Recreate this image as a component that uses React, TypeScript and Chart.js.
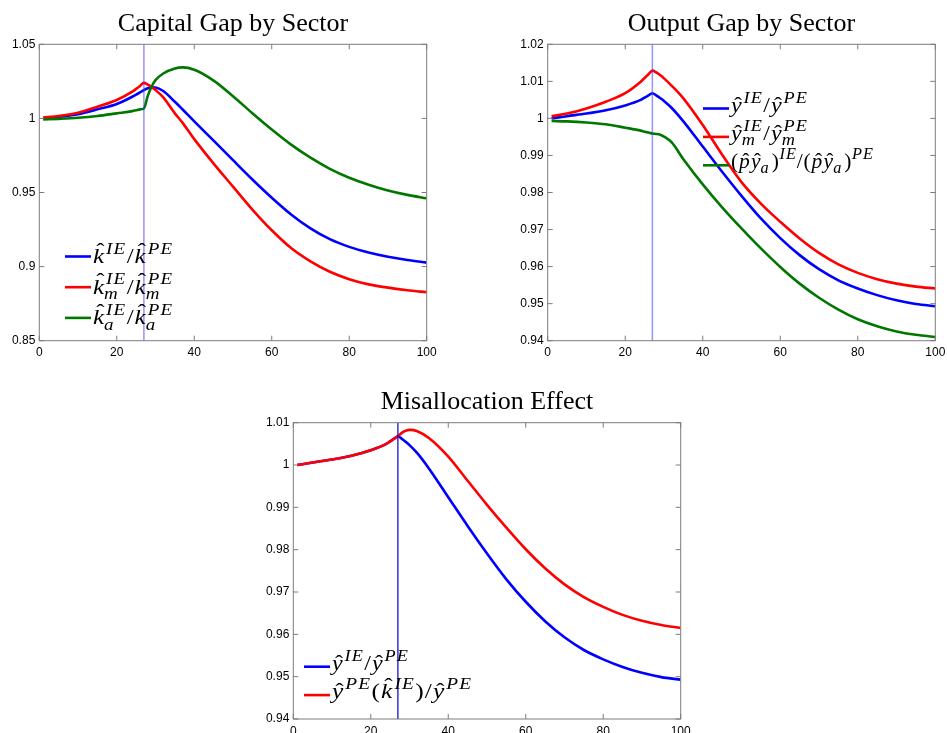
import React, { useEffect, useRef } from 'react';
import { Chart, registerables } from 'chart.js';

Chart.register(...registerables);

// ---------- data ----------
const xTicks = [0, 20, 40, 60, 80, 100];
const shockPeriod = 27;

// Capital gap by sector
const capT = [1, 5, 10, 15, 20, 24, 25, 26, 27, 28, 29, 30, 32, 35, 37, 40, 45, 50, 55, 60, 65, 70, 75, 80, 85, 90, 95, 100];
const capK = [1.0, 1.0011, 1.0029, 1.0061, 1.0097, 1.0146, 1.016, 1.0175, 1.0191, 1.0203, 1.021, 1.0209, 1.0185, 1.0112, 1.006, 0.998, 0.985, 0.9718, 0.9588, 0.9465, 0.9352, 0.9258, 0.9185, 0.9133, 0.9095, 0.9066, 0.9044, 0.9027];
const capKm = [1.0005, 1.0016, 1.0038, 1.0079, 1.0124, 1.018, 1.0199, 1.0219, 1.024, 1.0228, 1.0211, 1.0191, 1.0142, 1.0034, 0.997, 0.986, 0.9695, 0.954, 0.9385, 0.9245, 0.9125, 0.9035, 0.8965, 0.8915, 0.888, 0.8858, 0.884, 0.8827];
const capKa = [0.9993, 0.9997, 1.0004, 1.0016, 1.0034, 1.0049, 1.0055, 1.0061, 1.0067, 1.0152, 1.0215, 1.0258, 1.0303, 1.0337, 1.0344, 1.0328, 1.0255, 1.015, 1.0035, 0.9925, 0.9823, 0.9735, 0.966, 0.96, 0.9553, 0.9514, 0.9484, 0.9461];
const capYTicks = [0.85, 0.9, 0.95, 1, 1.05];

// Output gap by sector
const outT = [1, 5, 10, 15, 20, 24, 25, 26, 27, 28, 29, 30, 32, 35, 40, 45, 50, 55, 60, 65, 70, 75, 80, 85, 90, 95, 100];
const outY = [1.0, 1.0006, 1.0013, 1.0022, 1.0035, 1.005, 1.0056, 1.0062, 1.0068, 1.0062, 1.0055, 1.0047, 1.0028, 0.9992, 0.9924, 0.9856, 0.9791, 0.973, 0.9677, 0.9631, 0.9593, 0.9563, 0.9541, 0.9523, 0.9509, 0.9499, 0.9493];
const outYm = [1.0006, 1.0013, 1.0027, 1.0045, 1.0068, 1.0099, 1.0109, 1.0119, 1.0129, 1.0124, 1.0117, 1.0108, 1.0088, 1.0054, 0.9982, 0.9902, 0.9828, 0.977, 0.9721, 0.9676, 0.9637, 0.9606, 0.9583, 0.9566, 0.9554, 0.9546, 0.9541];
const outPYa = [0.9993, 0.9992, 0.9989, 0.9984, 0.9975, 0.9967, 0.9964, 0.9962, 0.9959, 0.9958, 0.9956, 0.9951, 0.9935, 0.989, 0.9822, 0.976, 0.9703, 0.9649, 0.9599, 0.9554, 0.9516, 0.9484, 0.9458, 0.9439, 0.9425, 0.9416, 0.941];
const outYTicks = [0.94, 0.95, 0.96, 0.97, 0.98, 0.99, 1, 1.01, 1.02];

// Misallocation effect
const misT = [1, 5, 10, 15, 20, 24, 25, 26, 27, 28, 29, 30, 32, 35, 40, 45, 50, 55, 60, 65, 70, 75, 80, 85, 90, 95, 100];
const misY = [1.0, 1.0006, 1.0013, 1.0022, 1.0035, 1.005, 1.0056, 1.0062, 1.0068, 1.0062, 1.0055, 1.0047, 1.0028, 0.9992, 0.9924, 0.9856, 0.9791, 0.973, 0.9677, 0.9631, 0.9593, 0.9563, 0.9541, 0.9523, 0.9509, 0.9499, 0.9493];
const misYk = [1.0, 1.0006, 1.0013, 1.0022, 1.0035, 1.005, 1.0056, 1.0062, 1.0068, 1.0076, 1.0081, 1.0083, 1.008, 1.0064, 1.002, 0.9963, 0.9906, 0.9852, 0.9801, 0.9756, 0.9718, 0.9688, 0.9665, 0.9646, 0.9632, 0.9622, 0.9615];
const misYTicks = [0.94, 0.95, 0.96, 0.97, 0.98, 0.99, 1, 1.01];

// ---------- legend labels (math text) ----------
type Seg = { b: string; roman?: boolean; hat?: boolean; sup?: string; sub?: string };

const capLabels: Seg[][] = [
  [{ b: 'k', hat: true, sup: 'IE' }, { b: '/', roman: true }, { b: 'k', hat: true, sup: 'PE' }],
  [{ b: 'k', hat: true, sup: 'IE', sub: 'm' }, { b: '/', roman: true }, { b: 'k', hat: true, sup: 'PE', sub: 'm' }],
  [{ b: 'k', hat: true, sup: 'IE', sub: 'a' }, { b: '/', roman: true }, { b: 'k', hat: true, sup: 'PE', sub: 'a' }],
];
const outLabels: Seg[][] = [
  [{ b: 'y', hat: true, sup: 'IE' }, { b: '/', roman: true }, { b: 'y', hat: true, sup: 'PE' }],
  [{ b: 'y', hat: true, sup: 'IE', sub: 'm' }, { b: '/', roman: true }, { b: 'y', hat: true, sup: 'PE', sub: 'm' }],
  [
    { b: '(', roman: true }, { b: 'p', hat: true }, { b: 'y', hat: true, sub: 'a' }, { b: ')', roman: true, sup: 'IE' },
    { b: '/', roman: true },
    { b: '(', roman: true }, { b: 'p', hat: true }, { b: 'y', hat: true, sub: 'a' }, { b: ')', roman: true, sup: 'PE' },
  ],
];
const misLabels: Seg[][] = [
  [{ b: 'y', hat: true, sup: 'IE' }, { b: '/', roman: true }, { b: 'y', hat: true, sup: 'PE' }],
  [
    { b: 'y', hat: true, sup: 'PE' }, { b: '(', roman: true }, { b: 'k', hat: true, sup: 'IE' }, { b: ')', roman: true },
    { b: '/', roman: true }, { b: 'y', hat: true, sup: 'PE' },
  ],
];

const titles = ['Capital Gap by Sector', 'Output Gap by Sector', 'Misallocation Effect'];

const BLUE = '#0000ff';
const RED = '#ff0000';
const GREEN = '#007800';

const SERIF = '"Liberation Serif", "Times New Roman", serif';
const SANS = '"Liberation Sans", Arial, Helvetica, sans-serif';

// ---------- math text drawing ----------
function layoutMath(ctx: CanvasRenderingContext2D, segs: Seg[], x: number, y: number, size: number, draw: boolean) {
  const small = size * 0.76;
  let cx = x;
  ctx.textAlign = 'left';
  ctx.textBaseline = 'alphabetic';
  ctx.fillStyle = '#000';
  const put = (txt: string, px: number, py: number) => { if (draw) ctx.fillText(txt, px, py); };
  const spaced = (s: string, px: number, py: number) => {
    let sx = px;
    for (let i = 0; i < s.length; i++) {
      put(s[i], sx, py);
      sx += ctx.measureText(s[i]).width + (i < s.length - 1 ? small * 0.06 : 0);
    }
    return sx - px;
  };
  segs.forEach((s, idx) => {
    const ital = !s.roman;
    ctx.font = `${ital ? 'italic ' : ''}${size}px ${SERIF}`;
    put(s.b, cx, y);
    const bw = ctx.measureText(s.b).width;
    if (s.hat) {
      ctx.font = `${size}px ${SERIF}`;
      const hw = ctx.measureText('\u02C6').width;
      const raise = /[bdfhklt]/.test(s.b) ? size * 0.24 : 0;
      put('\u02C6', cx + bw / 2 - hw / 2 + size * 0.07, y - raise);
    }
    cx += bw;
    if (s.sup || s.sub) {
      ctx.font = `italic ${small}px ${SERIF}`;
      const sx = cx + (ital ? size * 0.08 : size * 0.03);
      let w1 = 0;
      let w2 = 0;
      if (s.sup) w1 = spaced(s.sup, sx, y - size * 0.42);
      if (s.sub) w2 = spaced(s.sub, sx - (ital ? size * 0.08 : 0), y + size * 0.24);
      cx = sx + Math.max(w1, w2);
    }
    if (idx < segs.length - 1) cx += s.roman ? size * 0.04 : size * 0.06;
  });
  return cx - x;
}

// Draws the label stretched horizontally to the width it has in the original figure.
function drawMath(ctx: CanvasRenderingContext2D, segs: Seg[], x: number, y: number, size: number, target: number) {
  const natural = layoutMath(ctx, segs, 0, y, size, false);
  const sx = Math.min(1.3, Math.max(0.85, target / natural));
  ctx.save();
  ctx.translate(x, 0);
  ctx.scale(sx, 1);
  layoutMath(ctx, segs, 0, y, size, true);
  ctx.restore();
}

// ---------- panel specs ----------
interface Spec {
  left: number; top: number; w: number; h: number;
  padLeft: number; padRight: number; padTop: number; yAxisW: number; xAxisH: number;
  title: string;
  t: number[];
  series: { data: number[]; color: string }[];
  yMin: number; yMax: number; yTicks: number[];
  vColor: string; vWidth: number;
  legX: number; legY: number; legDy: number; legBase: number; legSize: number;
  legW: number[];
  labels: Seg[][];
}

const specs: Spec[] = [
  {
    left: 0, top: 0, w: 470, h: 365,
    padLeft: 0.3, padRight: 43.3, padTop: 44.3, yAxisW: 39, xAxisH: 24.3,
    title: titles[0], t: capT,
    series: [{ data: capK, color: BLUE }, { data: capKm, color: RED }, { data: capKa, color: GREEN }],
    yMin: 0.85, yMax: 1.05, yTicks: capYTicks,
    vColor: 'rgba(60,60,255,0.55)', vWidth: 1.5,
    legX: 65, legY: 256.5, legDy: 30.7, legBase: 6.5, legSize: 22,
    legW: [79, 79, 79],
    labels: capLabels,
  },
  {
    left: 480, top: 0, w: 480, h: 365,
    padLeft: 27.7, padRight: 24.7, padTop: 44.3, yAxisW: 40, xAxisH: 24.3,
    title: titles[1], t: outT,
    series: [{ data: outY, color: BLUE }, { data: outYm, color: RED }, { data: outPYa, color: GREEN }],
    yMin: 0.94, yMax: 1.02, yTicks: outYTicks,
    vColor: 'rgba(60,60,255,0.55)', vWidth: 1.5,
    legX: 223, legY: 108.5, legDy: 28.4, legBase: 3, legSize: 21,
    legW: [76, 76, 142],
    labels: outLabels,
  },
  {
    left: 240, top: 380, w: 460, h: 353,
    padLeft: 13.3, padRight: 19.3, padTop: 42.7, yAxisW: 40, xAxisH: 14,
    title: titles[2], t: misT,
    series: [{ data: misY, color: BLUE }, { data: misYk, color: RED }],
    yMin: 0.94, yMax: 1.01, yTicks: misYTicks,
    vColor: '#0000cc', vWidth: 1.2,
    legX: 64, legY: 286.7, legDy: 28.4, legBase: 3, legSize: 21.5,
    legW: [76, 139],
    labels: misLabels,
  },
];

function makeDecor(spec: Spec) {
  return {
    id: 'decor',
    afterDatasetsDraw(chart: any) {
      const { ctx, chartArea: a, scales } = chart;
      const vx = scales.x.getPixelForValue(shockPeriod);
      ctx.save();
      ctx.strokeStyle = spec.vColor;
      ctx.lineWidth = spec.vWidth;
      ctx.beginPath();
      ctx.moveTo(vx, a.top);
      ctx.lineTo(vx, a.bottom);
      ctx.stroke();
      ctx.restore();
    },
    afterDraw(chart: any) {
      const { ctx, chartArea: a, scales } = chart;
      ctx.save();
      // axes box
      ctx.strokeStyle = '#7c7c7c';
      ctx.lineWidth = 1;
      ctx.strokeRect(a.left, a.top, a.right - a.left, a.bottom - a.top);
      // inward tick marks on all sides
      const tl = 5;
      ctx.beginPath();
      xTicks.forEach((v) => {
        const px = scales.x.getPixelForValue(v);
        ctx.moveTo(px, a.bottom);
        ctx.lineTo(px, a.bottom - tl);
        ctx.moveTo(px, a.top);
        ctx.lineTo(px, a.top + tl);
      });
      spec.yTicks.forEach((v) => {
        const py = scales.y.getPixelForValue(v);
        ctx.moveTo(a.left, py);
        ctx.lineTo(a.left + tl, py);
        ctx.moveTo(a.right, py);
        ctx.lineTo(a.right - tl, py);
      });
      ctx.stroke();
      // title
      ctx.fillStyle = '#000';
      ctx.font = `26px ${SERIF}`;
      ctx.textAlign = 'center';
      ctx.textBaseline = 'alphabetic';
      ctx.fillText(spec.title, (a.left + a.right) / 2, a.top - 13.4);
      // legend
      spec.labels.forEach((lab, i) => {
        const ly = spec.legY + i * spec.legDy;
        ctx.strokeStyle = spec.series[i].color;
        ctx.lineWidth = 2.6;
        ctx.beginPath();
        ctx.moveTo(spec.legX, ly);
        ctx.lineTo(spec.legX + 26, ly);
        ctx.stroke();
        drawMath(ctx, lab, spec.legX + 28, ly + spec.legBase, spec.legSize, spec.legW[i]);
      });
      ctx.restore();
    },
  };
}

function Panel({ spec }: { spec: Spec }) {
  const ref = useRef<HTMLCanvasElement>(null);
  useEffect(() => {
    const canvas = ref.current;
    if (!canvas) return;
    const chart = new Chart(canvas, {
      type: 'line',
      data: {
        datasets: spec.series.map((s, i) => ({
          data: spec.t.map((t, j) => ({ x: t, y: s.data[j] })),
          borderColor: s.color,
          backgroundColor: s.color,
          borderWidth: 2.6,
          pointRadius: 0,
          fill: false,
          cubicInterpolationMode: 'monotone' as const,
          order: spec.series.length - i,
        })),
      },
      options: {
        animation: false,
        responsive: false,
        events: [],
        layout: { padding: { left: spec.padLeft, right: spec.padRight, top: spec.padTop, bottom: 0 } },
        plugins: { legend: { display: false }, tooltip: { enabled: false }, title: { display: false } },
        scales: {
          x: {
            type: 'linear',
            min: 0,
            max: 100,
            grid: { display: false, drawTicks: false },
            border: { display: false },
            ticks: { color: '#000', font: { family: SANS, size: 12 }, padding: 5, maxRotation: 0, autoSkip: false, callback: (v: any) => String(v) },
            afterBuildTicks: (sc: any) => { sc.ticks = xTicks.map((v) => ({ value: v })); },
            afterFit: (sc: any) => { sc.height = spec.xAxisH; },
          },
          y: {
            type: 'linear',
            min: spec.yMin,
            max: spec.yMax,
            grid: { display: false, drawTicks: false },
            border: { display: false },
            ticks: { color: '#000', font: { family: SANS, size: 12 }, padding: 4, autoSkip: false, callback: (v: any) => String(v) },
            afterBuildTicks: (sc: any) => { sc.ticks = spec.yTicks.map((v) => ({ value: v })); },
            afterFit: (sc: any) => { sc.width = spec.yAxisW; },
          },
        },
      },
      plugins: [makeDecor(spec)],
    } as any);
    return () => chart.destroy();
  }, [spec]);
  return (
    <canvas
      ref={ref}
      width={spec.w}
      height={spec.h}
      style={{ position: 'absolute', left: spec.left, top: spec.top, width: spec.w, height: spec.h }}
    />
  );
}

export default function App() {
  return (
    <div style={{ position: 'absolute', left: 0, top: 0, width: 947, height: 733, background: '#fff', overflow: 'hidden' }}>
      {specs.map((s, i) => (
        <Panel key={i} spec={s} />
      ))}
    </div>
  );
}
